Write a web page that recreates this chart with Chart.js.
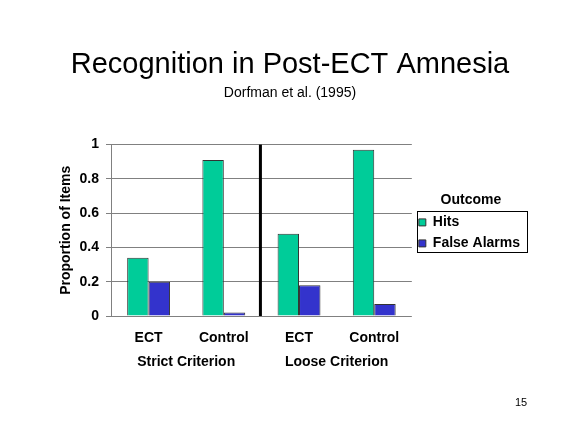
<!DOCTYPE html>
<html lang="en">
  <head>
    <meta charset="UTF-8" />
    <title>Recognition in Post-ECT Amnesia</title>
    <script src="https://cdn.jsdelivr.net/npm/chart.js"></script>
    <style>
      html, body { margin: 0; padding: 0; background: #ffffff; }
      canvas { display: block; }
    </style>
  </head>
  <body>
    <canvas id="ectChart" width="576" height="432"></canvas>

    <script>
      // data
      const groups = ["ECT", "Control", "ECT", "Control"];
      const criteria = ["Strict Criterion", "Loose Criterion"];
      const hits = [0.34, 0.91, 0.48, 0.97];
      const falseAlarms = [0.2, 0.02, 0.18, 0.07];
      const yTicks = [0, 0.2, 0.4, 0.6, 0.8, 1];

      const FONT = "'Liberation Sans', Arial, sans-serif";

      // box around the legend entries
      const legendFrame = {
        id: "legendFrame",
        afterDraw(chart) {
          const boxes = chart.legend.legendHitBoxes;
          if (!boxes || !boxes.length) return;
          const ctx = chart.ctx;
          const left = Math.min(...boxes.map((b) => b.left)) - 2;
          const right = Math.max(...boxes.map((b) => b.left + b.width)) + 7;
          const top = Math.min(...boxes.map((b) => b.top)) - 4;
          const bottom = Math.max(...boxes.map((b) => b.top + b.height)) + 2;
          ctx.save();
          ctx.strokeStyle = "#000000";
          ctx.lineWidth = 1;
          ctx.strokeRect(Math.round(left) + 0.5, Math.round(top) + 0.5, Math.round(right - left), Math.round(bottom - top));
          ctx.restore();
        },
      };

      // thick line between the two criteria + slide number
      const divider = {
        id: "divider",
        afterDatasetsDraw(chart) {
          const x = chart.scales.x;
          const area = chart.chartArea;
          const mid = (x.getPixelForValue(1) + x.getPixelForValue(2)) / 2 - 1;
          const ctx = chart.ctx;
          ctx.save();
          ctx.strokeStyle = "#000000";
          ctx.lineWidth = 3;
          ctx.beginPath();
          ctx.moveTo(mid, area.top);
          ctx.lineTo(mid, area.bottom);
          ctx.stroke();
          ctx.restore();
        },
        afterDraw(chart) {
          const ctx = chart.ctx;
          ctx.save();
          ctx.fillStyle = "#000000";
          ctx.font = "11px " + FONT;
          ctx.textAlign = "center";
          ctx.textBaseline = "middle";
          ctx.fillText("15", 521, 403);
          ctx.restore();
        },
      };

      const ctx = document.getElementById("ectChart").getContext("2d");
      const ectChart = new Chart(ctx, {
        type: "bar",
        data: {
          labels: groups,
          datasets: [
            {
              label: "Hits",
              data: hits,
              backgroundColor: "#00CC99",
              borderColor: "#333333",
              borderWidth: 1,
            },
            {
              label: "False Alarms",
              data: falseAlarms,
              backgroundColor: "#3333CC",
              borderColor: "#333333",
              borderWidth: 1,
            },
          ],
        },
        options: {
          responsive: false,
          devicePixelRatio: 1,
          animation: false,
          categoryPercentage: 0.57,
          barPercentage: 1,
          layout: {
            padding: { left: 50, right: 46, top: 0, bottom: 61 },
          },
          plugins: {
            title: {
              display: true,
              text: "Recognition in Post-ECT Amnesia",
              color: "#000000",
              font: { family: FONT, size: 29, weight: "normal" },
              padding: { top: 48, bottom: 0 },
            },
            subtitle: {
              display: true,
              text: "Dorfman et al. (1995)",
              color: "#000000",
              font: { family: FONT, size: 14, weight: "normal" },
              padding: { top: 2, bottom: 43 },
            },
            legend: {
              position: "right",
              align: "start",
              fullSize: false,
              title: {
                display: true,
                text: "Outcome",
                color: "#000000",
                font: { family: FONT, size: 14, weight: "bold" },
                padding: { top: 49, bottom: -2 },
              },
              labels: {
                boxWidth: 7,
                boxHeight: 7,
                padding: 7,
                color: "#000000",
                font: { family: FONT, size: 14, weight: "bold" },
              },
            },
            tooltip: { enabled: false },
          },
          scales: {
            x: {
              afterFit(scale) {
                scale.height = 30;
              },
              grid: { display: false, drawTicks: false },
              border: { display: false },
              ticks: {
                color: "#000000",
                padding: 14,
                font: { family: FONT, size: 14, weight: "bold" },
              },
            },
            x2: {
              type: "category",
              position: "bottom",
              labels: criteria,
              offset: true,
              afterFit(scale) {
                scale.height = 25;
              },
              grid: { display: false, drawTicks: false },
              border: { display: false },
              ticks: {
                color: "#000000",
                padding: 8,
                font: { family: FONT, size: 14, weight: "bold" },
              },
            },
            y: {
              min: 0,
              max: 1,
              afterFit(scale) {
                scale.width = 61;
              },
              afterBuildTicks(scale) {
                scale.ticks = yTicks.map((v) => ({ value: v }));
              },
              grid: {
                color: "#808080",
                lineWidth: 1,
                tickLength: 5,
              },
              border: { display: true, color: "#808080" },
              ticks: {
                color: "#000000",
                padding: 7,
                font: { family: FONT, size: 14, weight: "bold" },
                callback: (v) => String(v),
              },
              title: {
                display: true,
                text: "Proportion of Items",
                color: "#000000",
                font: { family: FONT, size: 14, weight: "bold" },
                padding: { top: 8, bottom: 0 },
              },
            },
          },
        },
        plugins: [legendFrame, divider],
      });
    </script>
  </body>
</html>
